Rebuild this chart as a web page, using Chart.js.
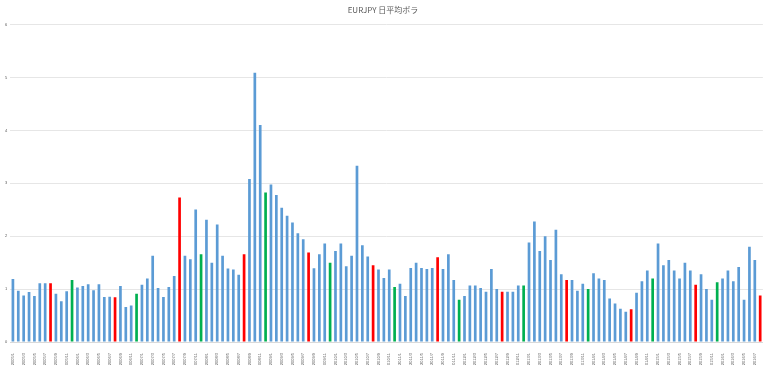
<!DOCTYPE html>
<html>
<head>
<meta charset="utf-8">
<script src="https://cdn.jsdelivr.net/npm/chart.js@4"></script>
<style>
  body { margin: 0; background: #fff; }
  #wrap { width: 768px; height: 365px; }
</style>
</head>
<body>
<div id="wrap"><canvas id="myChart"></canvas></div>
<script>
// 月ごとの日平均ボラ (EURJPY)
const years = [2005, 2006, 2007, 2008, 2009, 2010, 2011, 2012, 2013, 2014, 2015, 2016];
const vol2005 = [1.19, 0.97, 0.88, 0.945, 0.87, 1.11, 1.11, 1.11, 0.91, 0.77, 0.96, 1.17];
const vol2006 = [1.03, 1.06, 1.09, 0.98, 1.09, 0.85, 0.855, 0.845, 1.06, 0.66, 0.69, 0.91];
const vol2007 = [1.08, 1.20, 1.63, 1.02, 0.85, 1.04, 1.25, 2.73, 1.63, 1.565, 2.505, 1.66];
const vol2008 = [2.31, 1.50, 2.22, 1.63, 1.39, 1.37, 1.27, 1.66, 3.08, 5.09, 4.10, 2.825];
const vol2009 = [2.975, 2.78, 2.54, 2.385, 2.26, 2.055, 1.94, 1.69, 1.395, 1.66, 1.86, 1.50];
const vol2010 = [1.72, 1.86, 1.43, 1.63, 3.33, 1.83, 1.615, 1.45, 1.37, 1.21, 1.37, 1.04];
const vol2011 = [1.10, 0.87, 1.40, 1.50, 1.40, 1.38, 1.40, 1.60, 1.38, 1.66, 1.17, 0.80];
const vol2012 = [0.87, 1.07, 1.07, 1.02, 0.95, 1.38, 1.00, 0.95, 0.95, 0.95, 1.07, 1.07];
const vol2013 = [1.88, 2.28, 1.72, 2.00, 1.55, 2.12, 1.28, 1.17, 1.17, 0.97, 1.10, 1.00];
const vol2014 = [1.30, 1.20, 1.17, 0.82, 0.73, 0.63, 0.57, 0.62, 0.93, 1.15, 1.35, 1.20];
const vol2015 = [1.86, 1.45, 1.55, 1.35, 1.20, 1.50, 1.35, 1.08, 1.28, 1.00, 0.80, 1.13];
const vol2016 = [1.20, 1.35, 1.15, 1.42, 0.80, 1.80, 1.55, 0.88];
const yTicks = [0, 1, 2, 3, 4, 5, 6];

const volByYear = [vol2005, vol2006, vol2007, vol2008, vol2009, vol2010,
                   vol2011, vol2012, vol2013, vol2014, vol2015, vol2016];

const labels = [];
const values = [];
const colors = [];
volByYear.forEach((arr, i) => {
  arr.forEach((v, m) => {
    labels.push(years[i] + '/' + (m + 1));
    values.push(v);
    // 8月は赤, 12月は緑
    if (m === 7) colors.push('#ff0000');
    else if (m === 11) colors.push('#00b050');
    else colors.push('#5b9bd5');
  });
});

const ctx = document.getElementById('myChart');
new Chart(ctx, {
  type: 'bar',
  data: {
    labels: labels,
    datasets: [{
      label: 'EURJPY',
      data: values,
      backgroundColor: colors,
      borderWidth: 0,
      categoryPercentage: 1.0,
      barPercentage: 0.5
    }]
  },
  options: {
    responsive: true,
    maintainAspectRatio: false,
    animation: false,
    layout: { padding: { left: 2, right: 4, top: 2, bottom: 0 } },
    plugins: {
      legend: { display: false },
      tooltip: { enabled: false },
      title: {
        display: true,
        text: 'EURJPY 日平均ボラ',
        color: '#595959',
        font: { family: '"Noto Sans CJK JP", "Noto Sans", sans-serif', size: 8, weight: 'normal' },
        padding: { top: 3, bottom: 10 }
      }
    },
    scales: {
      x: {
        grid: { display: false },
        border: { color: '#d9d9d9' },
        afterFit: axis => { axis.height = 23; },
        ticks: {
          autoSkip: false,
          maxRotation: 90,
          minRotation: 90,
          padding: 3,
          color: '#595959',
          font: { family: '"Liberation Sans", sans-serif', size: 4 },
          callback: function (val, idx) {
            return idx % 2 === 0 ? labels[idx] : '';
          }
        }
      },
      y: {
        min: yTicks[0],
        max: yTicks[yTicks.length - 1],
        afterBuildTicks: axis => { axis.ticks = yTicks.map(v => ({ value: v })); },
        grid: { color: '#e6e6e6', drawTicks: false },
        border: { display: false },
        ticks: {
          padding: 3,
          color: '#595959',
          font: { family: '"Liberation Sans", sans-serif', size: 4 }
        }
      }
    }
  }
});
</script>
</body>
</html>
